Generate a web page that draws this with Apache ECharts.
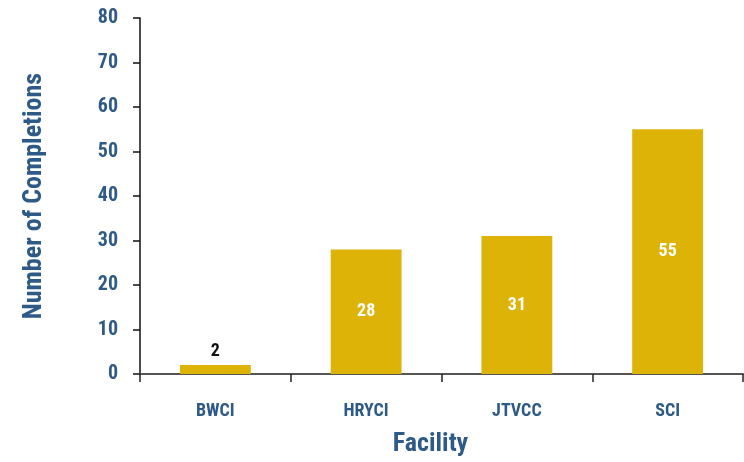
<!DOCTYPE html>
<html><head><meta charset="utf-8">
<script src="https://cdn.jsdelivr.net/npm/echarts@6/dist/echarts.min.js"></script>
<style>html,body{margin:0;padding:0;background:#fff}#c{width:744px;height:462px}</style>
</head><body><div id="c"></div>
<script>
const categories = ['BWCI', 'HRYCI', 'JTVCC', 'SCI'];
const completions = [2, 28, 31, 55];
const yTicks = [0, 10, 20, 30, 40, 50, 60, 70, 80];

const FONT = '"Roboto Condensed", "Liberation Sans Narrow", "DejaVu Sans Condensed", sans-serif';
const NAVY = '#2E5A88';
const chart = echarts.init(document.getElementById('c'));
chart.setOption({
  animation: false,
  grid: { left: 140, right: 1, top: 18, bottom: 87, containLabel: false },
  xAxis: {
    type: 'category', data: categories,
    name: 'Facility', nameLocation: 'middle', nameGap: 57,
    nameTextStyle: { color: NAVY, fontFamily: FONT, fontWeight: 'bold', fontSize: 26, padding: [0, 22, 0, 0] },
    axisLine: { lineStyle: { color: '#555', width: 2 } },
    axisTick: { show: true, length: 8, lineStyle: { color: '#222', width: 1.5 } },
    axisLabel: { color: NAVY, fontFamily: FONT, fontWeight: 'bold', fontSize: 18, margin: 28 },
    splitLine: { show: false }
  },
  yAxis: {
    type: 'value', min: yTicks[0], max: yTicks[yTicks.length - 1], interval: 10,
    name: 'Number of Completions', nameLocation: 'middle', nameGap: 93, nameRotate: 90,
    nameTextStyle: { color: NAVY, fontFamily: FONT, fontWeight: 'bold', fontSize: 26 },
    axisLine: { show: true, lineStyle: { color: '#111', width: 1.5 } },
    axisTick: { show: true, length: 7, lineStyle: { color: '#111', width: 1.5 } },
    axisLabel: { color: NAVY, fontFamily: FONT, fontWeight: 'bold', fontSize: 20, margin: 22 },
    splitLine: { show: false }
  },
  series: [{
    type: 'bar', barWidth: '47%',
    itemStyle: { color: '#DDB307' },
    data: completions.map((v, i) => i === 0
      ? { value: v, label: { position: 'top', color: '#111', distance: 5 } }
      : { value: v }),
    label: { show: true, position: 'inside', color: '#fff', fontFamily: FONT, fontWeight: 'bold', fontSize: 18 }
  }]
});
</script></body></html>
